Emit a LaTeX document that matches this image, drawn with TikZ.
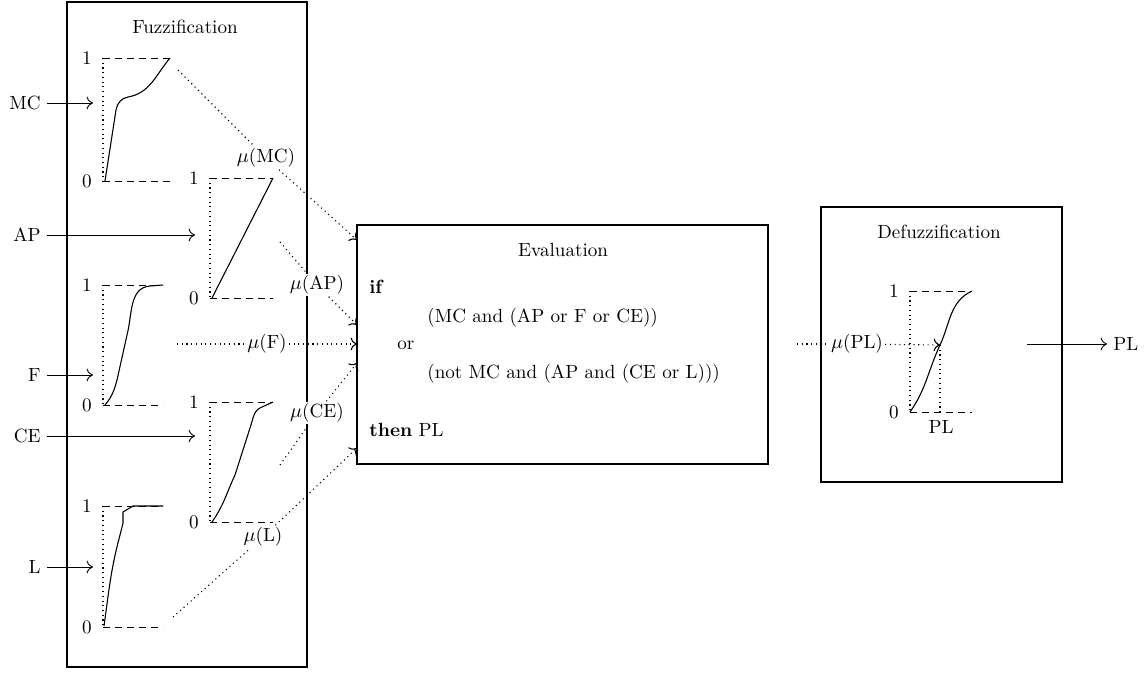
\documentclass[tikz,border=0pt]{standalone}
\usepackage{amsmath,amssymb}
\usetikzlibrary{arrows.meta,fit}

\begin{document}
\begin{tikzpicture}[x=0.55pt, y=-0.55pt,
  font=\fontsize{10.5pt}{12.6pt}\selectfont,
  box/.style={draw, semithick, inner sep=0pt},
  ttl/.style={anchor=base, inner sep=0pt},
  txt/.style={anchor=base west, inner sep=0pt},
  tick/.style={inner sep=0pt},
  inlbl/.style={anchor=east},
  mu/.style={fill=white, inner sep=1pt},
  rim/.style={dash pattern=on 4pt off 2.6pt, line width=0.5pt},
  dots/.style={dotted, line width=0.6pt},
  crv/.style={line width=0.6pt},
  arr/.style={-{To[length=3.5pt,width=7pt]}, line width=0.5pt},
  dotarr/.style={dots, -{To[length=3.5pt,width=7pt]}}
]
  \useasboundingbox (0,0) rectangle (1146,674);

  % the three stages
  \node[box, fit={(67,2) (307,667)}]    (fuzz) {};
  \node[box, fit={(357,225) (768,464)}] (eval) {};
  \node[box, fit={(821,207) (1062,482)}] (defuzz) {};
  \node[ttl] (fuzzt)   at (185,33)  {Fuzzification};
  \node[ttl] (evalt)   at (563,256) {Evaluation};
  \node[ttl] (defuzzt) at (939,238) {Defuzzification};

  % membership function frames
  \foreach \n/\x/\y/\w/\h in {mc/103/58/67/123, ap/210/178/63/120, f/103/285/60/120,
                              ce/210/402/63/120, l/103/506/60/121, pl/910/291/62/121} {
    \draw[rim] (\x,\y) -- ++(\w,0);
    \draw[rim] (\x,\y+\h) -- ++(\w,0);
    \draw[dots] (\x,\y) -- (\x,\y+\h);
    \node[tick] (one\n)  at (\x-16,\y)    {1};
    \node[tick] (zero\n) at (\x-16,\y+\h) {0};
  }

  % curves
  \draw[crv] (105,181) -- (116,110) to[out=80,in=190] (128,97) to[out=10,in=230] (170,58);
  \draw[crv] (212,298) -- (273,178);
  \draw[crv] (105,405) to[out=50,in=255] (117,380) -- (127,335)
             to[out=75,in=185] (150,286) -- (163,285);
  \draw[crv] (212,522) to[out=55,in=245] (235,475) -- (250,428)
             to[out=70,in=200] (262,407) -- (273,402);
  \draw[crv] (104,626) to[out=82,in=255] (120,535) -- (123,523) -- (123,512)
             -- (133,506) -- (163,506);
  \draw[crv] (910,412) to[out=55,in=245] (940,345) to[out=65,in=205] (972,291);

  % inputs
  \foreach \n/\y/\e in {MC/103/93, AP/235/195, F/375/93, CE/436/195, L/567/93} {
    \node[inlbl] (in\n) at (47,\y) {\n};
    \coordinate (end\n) at (\e,\y);
    \draw[arr] (in\n) -- (end\n);
  }

  % fuzzified values into the rules
  \foreach \n/\mx/\my/\sx/\sy/\ey in {MC/266/158/178/70/240, AP/317/285/280/242/325,
                                      F/267/344/177/344/344, CE/317/413/280/465/363,
                                      L/263/537/173/617/448} {
    \node[mu] (mu\n) at (\mx,\my) {$\mu$(\n)};
    \coordinate (from\n) at (\sx,\sy);
    \coordinate (to\n) at (357,\ey);
    \draw[dots] (from\n) -- (mu\n);
    \draw[dotarr] (mu\n) -- (to\n);
  }

  % rule text
  \node[txt] (rif)   at (369,293) {\textbf{if}};
  \node[txt] (rone)  at (427,322) {(MC and (AP or F or CE))};
  \node[txt] (ror)   at (397,349) {or};
  \node[txt] (rtwo)  at (427,378) {(not MC and (AP and (CE or L)))};
  \node[txt] (rthen) at (369,436) {\textbf{then} PL};

  % defuzzification
  \coordinate (defin) at (797,344);
  \coordinate (plx) at (940,345);
  \node[mu] (muPL) at (857,344) {$\mu$(PL)};
  \draw[dots] (defin) -- (muPL);
  \draw[dotarr] (muPL) -- (plx);
  \draw[dots] (plx) -- (940,412);
  \node[ttl] (plaxis) at (941,433) {PL};
  \coordinate (plstart) at (1027,344);
  \node[anchor=west] (outPL) at (1107,344) {PL};
  \draw[arr] (plstart) -- (outPL);
\end{tikzpicture}
\end{document}
